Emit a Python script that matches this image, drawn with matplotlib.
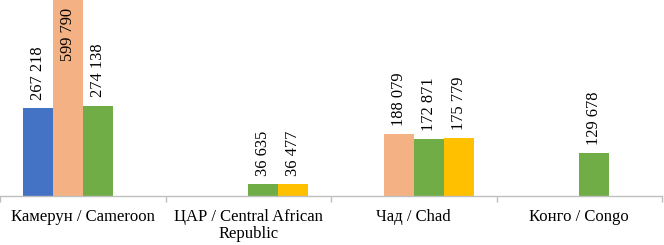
import matplotlib
matplotlib.use("Agg")
import matplotlib.pyplot as plt
import numpy as np

categories = ["Камерун / Cameroon", "ЦАР / Central African\nRepublic", "Чад / Chad", "Конго / Congo"]
series_blue = [267218, None, None, None]
series_orange = [599790, None, 188079, None]
series_green = [274138, 36635, 172871, 129678]
series_yellow = [None, 36477, 175779, None]
colors = ["#4472C4", "#F4B183", "#70AD47", "#FFC000"]

plt.rcParams['font.family'] = ['Liberation Serif', 'DejaVu Serif']

fig = plt.figure(figsize=(6.64, 2.45), dpi=100)
ax = fig.add_axes([0.0, 0.2, 662/664, 0.8])

ymax = 595000
w = 0.1813
x = np.arange(len(categories))
all_series = [series_blue, series_orange, series_green, series_yellow]
for i, (s, c) in enumerate(zip(all_series, colors)):
    off = (i - 1.5) * w
    for j, v in enumerate(s):
        if v is None:
            continue
        xp = x[j] + off
        ax.bar(xp, v, width=w, color=c, linewidth=0)
        lab = f"{v:,}".replace(",", " ")
        if v > ymax * 0.85:
            ax.annotate(lab, (xp, ymax), xytext=(0, -6), textcoords="offset points",
                        rotation=90, ha="center", va="top", fontsize=11.8, color="black")
        else:
            ax.annotate(lab, (xp, v), xytext=(0, 6), textcoords="offset points",
                        rotation=90, ha="center", va="bottom", fontsize=11.8, color="black")

ax.set_xlim(-0.5, 3.5)
ax.set_ylim(0, ymax)
for sp in ["top", "right", "left"]:
    ax.spines[sp].set_visible(False)
ax.spines["bottom"].set_color("#BFBFBF")
ax.spines["bottom"].set_linewidth(1.0)
ax.set_yticks([])
ax.set_xticks(x)
ax.set_xticklabels(categories, fontsize=12, linespacing=1.15, va="top")
ax.tick_params(axis="x", length=0, pad=9)
ax.set_xticks(np.arange(-0.5, 4.0, 1.0), minor=True)
ax.tick_params(axis="x", which="minor", length=4, color="#BFBFBF", width=1.0)

fig.savefig("out.png", dpi=100)
